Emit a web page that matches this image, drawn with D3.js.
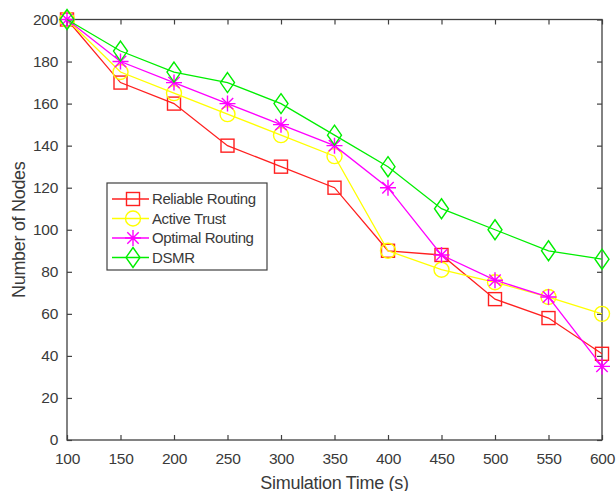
<!DOCTYPE html>
<html>
<head>
<meta charset="utf-8">
<script src="https://cdn.jsdelivr.net/npm/d3@7"></script>
<style>
    body { margin: 0; background: #fff; }
    text { font-family: "Liberation Sans", Arial, sans-serif; fill: #3a3a3a; }
</style>
</head>
<body>
<div id="chart"></div>
<script>
const times = [100, 150, 200, 250, 300, 350, 400, 450, 500, 550, 600];
const reliableRouting = [200, 170, 160, 140, 130, 120, 90, 88, 67, 58, 41];
const activeTrust = [200, 175, 165, 155, 145, 135, 90, 81, 75, 68, 60];
const optimalRouting = [200, 180, 170, 160, 150, 140, 120, 88, 76, 68, 35];
const dsmr = [200, 185, 175, 170, 160, 145, 130, 110, 100, 90, 86];
const xTicks = [100, 150, 200, 250, 300, 350, 400, 450, 500, 550, 600];
const yTicks = [0, 20, 40, 60, 80, 100, 120, 140, 160, 180, 200];

const series = [
    { name: "Reliable Routing", values: reliableRouting, color: "#ff2020", marker: "square" },
    { name: "Active Trust", values: activeTrust, color: "#ffff00", marker: "circle" },
    { name: "Optimal Routing", values: optimalRouting, color: "#ff00ff", marker: "star" },
    { name: "DSMR", values: dsmr, color: "#00ee00", marker: "diamond" }
];

const totalWidth = 616, totalHeight = 491;
const margin = { top: 19.5, right: 14, bottom: 51, left: 67 };
const width = totalWidth - margin.left - margin.right;
const height = totalHeight - margin.top - margin.bottom;

const svg = d3.select("#chart")
    .append("svg")
    .attr("width", totalWidth)
    .attr("height", totalHeight)
    .append("g")
    .attr("transform", `translate(${margin.left},${margin.top})`);

const xScale = d3.scaleLinear().domain([100, 600]).range([0, width]);
const yScale = d3.scaleLinear().domain([0, 200]).range([height, 0]);

const axisColor = "#404040";
const tickLen = 5;

// bottom and left axes with inward ticks
const xAxis = svg.append("g")
    .attr("transform", `translate(0,${height})`)
    .call(d3.axisBottom(xScale).tickValues(xTicks).tickSizeInner(-tickLen).tickSizeOuter(0).tickPadding(13));
const yAxis = svg.append("g")
    .call(d3.axisLeft(yScale).tickValues(yTicks).tickSizeInner(-tickLen).tickSizeOuter(0).tickPadding(9));
// top and right ticks, no labels
const xTop = svg.append("g")
    .call(d3.axisTop(xScale).tickValues(xTicks).tickSizeInner(-tickLen).tickSizeOuter(0).tickFormat(""));
const yRight = svg.append("g")
    .attr("transform", `translate(${width},0)`)
    .call(d3.axisRight(yScale).tickValues(yTicks).tickSizeInner(-tickLen).tickSizeOuter(0).tickFormat(""));

[xAxis, yAxis, xTop, yRight].forEach(a => {
    a.select(".domain").remove();
    a.selectAll("line").attr("stroke", axisColor).attr("stroke-width", 1.2);
    a.selectAll("text").style("font-size", "15.5px").attr("fill", "#3a3a3a")
        .style("letter-spacing", "-0.3px")
        .style("font-family", "'Liberation Sans', Arial, sans-serif");
});

svg.append("rect")
    .attr("x", 0).attr("y", 0)
    .attr("width", width).attr("height", height)
    .attr("fill", "none")
    .attr("stroke", axisColor)
    .attr("stroke-width", 1.3);

svg.append("text")
    .attr("x", width / 2)
    .attr("y", height + 48.5)
    .attr("text-anchor", "middle")
    .style("font-size", "18px")
    .style("letter-spacing", "-0.3px")
    .text("Simulation Time (s)");

svg.append("text")
    .attr("transform", "rotate(-90)")
    .attr("x", -height / 2)
    .attr("y", -42)
    .attr("text-anchor", "middle")
    .style("font-size", "18px")
    .style("letter-spacing", "-0.3px")
    .text("Number of Nodes");

function drawMarker(g, type, color) {
    if (type === "square") {
        g.append("rect").attr("x", -6.5).attr("y", -6.5).attr("width", 13).attr("height", 13)
            .attr("fill", "none").attr("stroke", color).attr("stroke-width", 1.4);
    } else if (type === "circle") {
        g.append("circle").attr("r", 7.5)
            .attr("fill", "none").attr("stroke", color).attr("stroke-width", 1.4);
    } else if (type === "star") {
        const r = 8, d = 5.7;
        g.append("path")
            .attr("d", `M${-r},0L${r},0M0,${-r}L0,${r}M${-d},${-d}L${d},${d}M${-d},${d}L${d},${-d}`)
            .attr("fill", "none").attr("stroke", color).attr("stroke-width", 1.4);
    } else if (type === "diamond") {
        g.append("path")
            .attr("d", "M0,-10L7,0L0,10L-7,0Z")
            .attr("fill", "none").attr("stroke", color).attr("stroke-width", 1.4);
    }
}

const line = d3.line()
    .x((d, i) => xScale(times[i]))
    .y(d => yScale(d));

series.forEach(s => {
    svg.append("path")
        .datum(s.values)
        .attr("d", line)
        .attr("fill", "none")
        .attr("stroke", s.color)
        .attr("stroke-width", 1.3);

    s.values.forEach((v, i) => {
        const g = svg.append("g")
            .attr("transform", `translate(${xScale(times[i])},${yScale(v)})`);
        drawMarker(g, s.marker, s.color);
    });
});

// legend
const legend = svg.append("g")
    .attr("transform", `translate(${107 - margin.left},${183 - margin.top})`);

legend.append("rect")
    .attr("width", 160)
    .attr("height", 87)
    .attr("fill", "#fff")
    .attr("stroke", axisColor)
    .attr("stroke-width", 1.2);

series.forEach((s, i) => {
    const y = 16 + i * 19.5;
    legend.append("line")
        .attr("x1", 5).attr("x2", 42)
        .attr("y1", y).attr("y2", y)
        .attr("stroke", s.color)
        .attr("stroke-width", 1.3);
    const g = legend.append("g").attr("transform", `translate(26,${y})`);
    drawMarker(g, s.marker, s.color);
    legend.append("text")
        .attr("x", 45)
        .attr("y", y)
        .attr("dy", "0.35em")
        .style("font-size", "15px")
        .style("letter-spacing", "-0.4px")
        .text(s.name);
});
</script>
</body>
</html>
